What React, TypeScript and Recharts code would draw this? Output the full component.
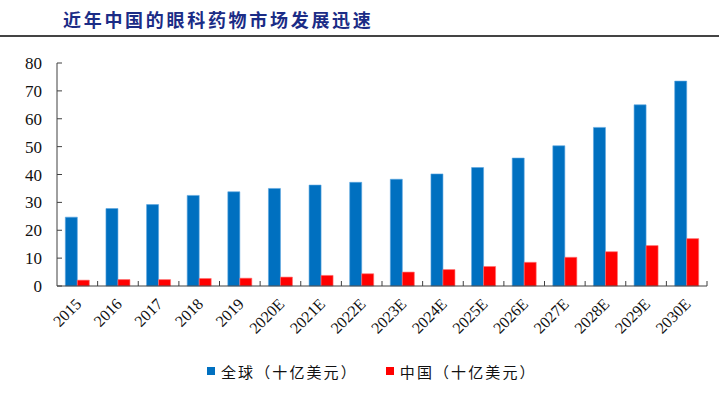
import React from 'react';
import { BarChart, Bar, XAxis, YAxis, Legend } from 'recharts';

const years = ['2015', '2016', '2017', '2018', '2019', '2020E', '2021E', '2022E', '2023E', '2024E', '2025E', '2026E', '2027E', '2028E', '2029E', '2030E'];
const globalMarket = [24.7, 27.8, 29.2, 32.5, 33.8, 35.0, 36.2, 37.2, 38.3, 40.2, 42.5, 45.9, 50.3, 56.9, 65.0, 73.5];
const chinaMarket = [2.1, 2.3, 2.3, 2.7, 2.8, 3.2, 3.8, 4.4, 5.0, 5.9, 7.0, 8.5, 10.3, 12.3, 14.5, 17.0];
const yTicks = [0, 10, 20, 30, 40, 50, 60, 70, 80];

const globalName = '全球（十亿美元）';
const chinaName = '中国（十亿美元）';
const title = '近年中国的眼科药物市场发展迅速';

const data = years.map((year, i) => ({ year, global: globalMarket[i], china: chinaMarket[i] }));

const W = 719;
const H = 394;
const AXIS_LEFT = 57;
const MARGIN_RIGHT = 12;
const BAND = (W - AXIS_LEFT - MARGIN_RIGHT) / years.length;
const serif = '"Liberation Serif", "Times New Roman", serif';
const cjk = '"Noto Sans CJK SC", "Noto Sans", sans-serif';

const YTick = (props: any) => {
    const { x, y, payload } = props;
    const axisX = x + 15;
    return (
        <g>
            <line x1={axisX} x2={axisX + 5} y1={y} y2={y} stroke="#404040" strokeWidth={1} />
            <text x={x} y={y} dy={6} textAnchor="end" fontFamily={serif} fontSize={17} fill="#111">
                {payload.value}
            </text>
        </g>
    );
};

const XTick = (props: any) => {
    const { x, y, payload } = props;
    const bx = x + BAND / 2;
    return (
        <g>
            <line x1={bx} x2={bx} y1={y - 5} y2={y} stroke="#404040" strokeWidth={1} />
            <text
                transform={`translate(${x + 5},${y + 19}) rotate(-45)`}
                textAnchor="end"
                fontFamily={serif}
                fontSize={16}
                fill="#111"
            >
                {payload.value}
            </text>
        </g>
    );
};

const LegendContent = () => (
    <div style={{ height: 20, display: 'flex', alignItems: 'center', paddingLeft: 207, fontFamily: cjk, fontSize: 15, color: '#111', letterSpacing: 2.1 }}>
        <span style={{ width: 8, height: 8, background: '#0070C0', marginRight: 6 }} />
        <span>{globalName}</span>
        <span style={{ width: 8, height: 8, background: '#FF0000', marginLeft: 28, marginRight: 6 }} />
        <span>{chinaName}</span>
    </div>
);

export default function App() {
    return (
        <div style={{ position: 'absolute', left: 0, top: 0, width: W, height: H, background: '#fff', overflow: 'hidden' }}>
            <div style={{ position: 'absolute', left: 63, top: 6, fontFamily: cjk, fontWeight: 700, fontSize: 18, letterSpacing: 2.7, color: '#1B2C86', whiteSpace: 'nowrap' }}>
                {title}
            </div>
            <div style={{ position: 'absolute', left: 0, top: 35, width: W, height: 2, background: '#444' }} />
            <BarChart
                width={W}
                height={H}
                data={data}
                margin={{ top: 63, right: MARGIN_RIGHT, left: 0, bottom: 13 }}
                barCategoryGap="20.5%"
                barGap={0}
            >
                <YAxis
                    width={AXIS_LEFT}
                    domain={[0, 80]}
                    ticks={yTicks}
                    interval={0}
                    tickLine={false}
                    tickSize={0}
                    tickMargin={15}
                    axisLine={{ stroke: '#404040', strokeWidth: 1 }}
                    tick={<YTick />}
                />
                <XAxis
                    dataKey="year"
                    height={75}
                    interval={0}
                    tickLine={false}
                    tickSize={0}
                    tickMargin={0}
                    axisLine={{ stroke: '#404040', strokeWidth: 1 }}
                    tick={<XTick />}
                />
                <Legend verticalAlign="bottom" height={20} wrapperStyle={{ left: 0, width: W }} content={<LegendContent />} />
                <Bar dataKey="global" name={globalName} fill="#0070C0" stroke="#5AA6E0" strokeWidth={0.6} isAnimationActive={false} />
                <Bar dataKey="china" name={chinaName} fill="#FF0000" stroke="#FF7070" strokeWidth={0.6} isAnimationActive={false} />
            </BarChart>
        </div>
    );
}
